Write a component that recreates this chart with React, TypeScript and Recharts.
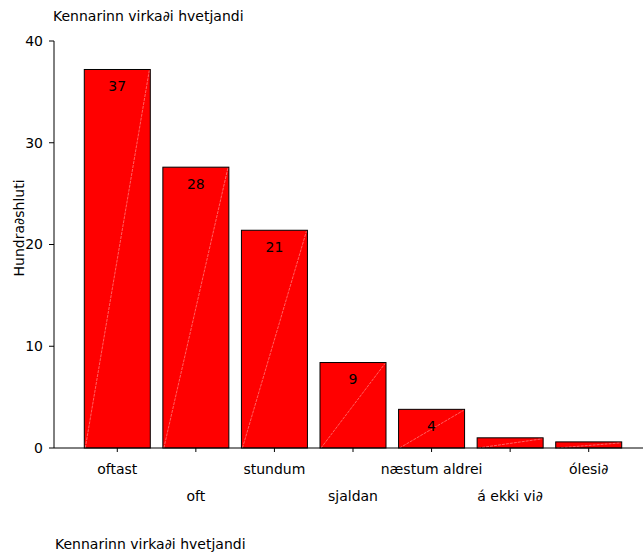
import React from 'react';
import { BarChart, Bar, XAxis, YAxis, LabelList } from 'recharts';

// Svarflokkar, hlutfall (%) og merkimiðar eins og þeir sjást á myndinni
const categories = ['oftast', 'oft', 'stundum', 'sjaldan', 'næstum aldrei', 'á ekki vi∂', 'ólesi∂'];
const percents = [37.2, 27.6, 21.4, 8.4, 3.8, 1.0, 0.6];
const barLabels = ['37', '28', '21', '9', '4', '', ''];
const yTicks = [0, 10, 20, 30, 40];

const title = 'Kennarinn virka∂i hvetjandi';
const yLabel = 'Hundra∂shluti';

const FONT = '"DejaVu Sans", Arial, sans-serif';

const data = categories.map((name, i) => ({
  name,
  value: percents[i],
  label: barLabels[i],
}));

// Rammi + daufa skálínan sem sést í hverri súlu
const BarShape = (props: any) => {
  const { x, y, width, height } = props;
  if (width == null || height == null) return null;
  return (
    <g>
      <rect x={x} y={y} width={width} height={height} fill="#ff0000" stroke="#000" strokeWidth={1} />
      <line
        x1={x + 1}
        y1={y + height}
        x2={x + width - 1}
        y2={y + 1}
        stroke="rgba(255,255,255,0.55)"
        strokeWidth={0.7}
        strokeDasharray="3 1"
      />
    </g>
  );
};

// Merkin á x-ás eru í tveimur röðum
const StaggeredTick = (props: any) => {
  const { x, y, payload, index } = props;
  const dy = index % 2 === 0 ? 20 : 47;
  return (
    <text x={x} y={y + dy} textAnchor="middle" fill="#000" fontSize={14} fontFamily={FONT}>
      {payload.value}
    </text>
  );
};

export default function App() {
  return (
    <div style={{ position: 'absolute', left: 0, top: 0, width: 643, height: 554, background: '#fff' }}>
      <BarChart
        width={643}
        height={554}
        data={data}
        margin={{ top: 41, right: 0, left: 0, bottom: 46 }}
        barCategoryGap="8%"
      >
        <XAxis
          dataKey="name"
          height={60}
          interval={0}
          padding={{ left: 24, right: 15 }}
          axisLine={{ stroke: '#000' }}
          tickLine={{ stroke: '#000' }}
          tickSize={4}
          tickMargin={2}
          tick={<StaggeredTick />}
        />
        <XAxis
          xAxisId="top"
          dataKey="name"
          orientation="top"
          height={0}
          tick={false}
          tickLine={false}
          axisLine={{ stroke: '#000' }}
        />
        <YAxis
          width={54}
          domain={[0, 40]}
          ticks={yTicks}
          interval={0}
          axisLine={{ stroke: '#000' }}
          tickLine={{ stroke: '#000' }}
          tickSize={5}
          tickMargin={6}
          tick={{ fill: '#000', fontSize: 14, fontFamily: FONT }}
        />
        <Bar dataKey="value" shape={<BarShape />} isAnimationActive={false}>
          <LabelList
            dataKey="label"
            position="insideTop"
            offset={12}
            fill="#000"
            fontSize={14}
            fontFamily={FONT}
          />
        </Bar>
      </BarChart>
      <svg
        width={643}
        height={554}
        style={{ position: 'absolute', left: 0, top: 0, pointerEvents: 'none' }}
      >
        <text x={53} y={21} fontSize={14} fontFamily={FONT} fill="#000">
          {title}
        </text>
        <text
          x={0}
          y={0}
          transform="translate(24 228) rotate(-90)"
          textAnchor="middle"
          fontSize={14}
          fontFamily={FONT}
          fill="#000"
        >
          {yLabel}
        </text>
        <text x={55} y={549} fontSize={14} fontFamily={FONT} fill="#000">
          {title}
        </text>
      </svg>
    </div>
  );
}
